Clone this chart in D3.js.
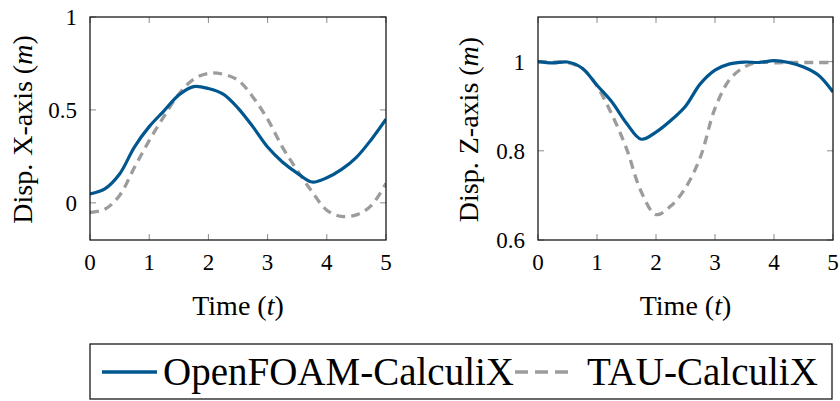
<!DOCTYPE html>
<html>
<head>
<meta charset="utf-8">
<script src="https://cdn.jsdelivr.net/npm/d3@7"></script>
<style>
  body { margin: 0; background: #fff; }
  svg { display: block; }
</style>
</head>
<body>
<svg id="chart"></svg>
<script>
const width = 840, height = 401;

// temps (t) commun aux deux séries
const time = [0, 0.25, 0.5, 0.75, 1, 1.25, 1.5, 1.75, 2, 2.25, 2.5, 2.75,
              3, 3.25, 3.5, 3.75, 4, 4.25, 4.5, 4.75, 5];

// Déplacement selon X
const openfoamX = [0.048, 0.075, 0.155, 0.30, 0.41, 0.495, 0.58, 0.625, 0.615, 0.585, 0.51,
                   0.41, 0.30, 0.22, 0.16, 0.112, 0.135, 0.18, 0.245, 0.34, 0.45];
const tauX = [-0.052, -0.035, 0.04, 0.19, 0.335, 0.465, 0.585, 0.665, 0.697, 0.692, 0.66,
              0.57, 0.45, 0.30, 0.175, 0.06, -0.04, -0.073, -0.065, -0.015, 0.105];

// Déplacement selon Z
const openfoamZ = [1.0, 0.997, 0.999, 0.985, 0.947, 0.91, 0.862, 0.826, 0.842, 0.868, 0.9,
                   0.95, 0.981, 0.995, 0.999, 0.998, 1.002, 0.998, 0.988, 0.97, 0.932];
const tauZ = [1.0, 0.999, 0.998, 0.985, 0.945, 0.882, 0.805, 0.708, 0.657, 0.676, 0.717,
              0.785, 0.895, 0.96, 0.988, 0.999, 0.997, 0.998, 0.998, 0.998, 0.998];

const xTicks = [0, 1, 2, 3, 4, 5];
const seriesNames = ["OpenFOAM-CalculiX", "TAU-CalculiX"];

const blue = "#00568e", grey = "#9c9c9c";

const svg = d3.select("#chart")
    .attr("width", width).attr("height", height);

const panels = [
    { left: 90, right: 386, yDomain: [-0.2, 1], yTicks: [0, 0.5, 1], fmt: d => d === 0 || d === 1 ? d : d3.format(".1f")(d),
      axis: "X", a: openfoamX, b: tauX, labelX: 32 },
    { left: 538, right: 833, yDomain: [0.6, 1.1], yTicks: [0.6, 0.8, 1], fmt: d => d === 1 ? "1" : d3.format(".1f")(d),
      axis: "Z", a: openfoamZ, b: tauZ, labelX: 478 }
];
const plotTop = 17, plotBottom = 240;

panels.forEach(p => {
    const x = d3.scaleLinear().domain([0, 5]).range([p.left, p.right]);
    const y = d3.scaleLinear().domain(p.yDomain).range([plotBottom, plotTop]);
    const g = svg.append("g");

    // graduations intérieures (grises)
    const tickCol = "#8a8a8a", tl = 6;
    g.selectAll(".xt").data(xTicks).enter().append("path")
        .attr("d", d => `M${x(d)},${plotBottom}v${-tl}M${x(d)},${plotTop}v${tl}`)
        .attr("stroke", tickCol).attr("stroke-width", 1);
    g.selectAll(".yt").data(p.yTicks).enter().append("path")
        .attr("d", d => `M${p.left},${y(d)}h${tl}M${p.right},${y(d)}h${-tl}`)
        .attr("stroke", tickCol).attr("stroke-width", 1);

    const line = d3.line()
        .x((d, i) => x(time[i]))
        .y(d => y(d))
        .curve(d3.curveCatmullRom.alpha(0.5));

    const clipId = "clip" + p.axis;
    g.append("clipPath").attr("id", clipId).append("rect")
        .attr("x", p.left).attr("y", plotTop).attr("width", p.right - p.left).attr("height", plotBottom - plotTop);

    g.append("path").datum(p.b)
        .attr("clip-path", `url(#${clipId})`)
        .attr("d", line).attr("fill", "none")
        .attr("stroke", grey).attr("stroke-width", 3.3).attr("stroke-dasharray", "9,6");
    g.append("path").datum(p.a)
        .attr("clip-path", `url(#${clipId})`)
        .attr("d", line).attr("fill", "none")
        .attr("stroke", blue).attr("stroke-width", 3.2);

    // cadre
    g.append("rect")
        .attr("x", p.left).attr("y", plotTop).attr("width", p.right - p.left).attr("height", plotBottom - plotTop)
        .attr("fill", "none").attr("stroke", "#1a1a1a").attr("stroke-width", 1.3);

    // libellés des graduations
    g.selectAll(".xl").data(xTicks).enter().append("text")
        .attr("x", d => x(d)).attr("y", 270)
        .attr("text-anchor", "middle").attr("font-size", 23)
        .text(d => d);
    g.selectAll(".yl").data(p.yTicks).enter().append("text")
        .attr("x", p.left - 13).attr("y", d => y(d)).attr("dy", "0.35em")
        .attr("text-anchor", "end").attr("font-size", 23)
        .text(p.fmt);

    // titres des axes
    const tx = g.append("text")
        .attr("x", (p.left + p.right) / 2).attr("y", 315)
        .attr("text-anchor", "middle").attr("font-size", 28);
    tx.append("tspan").text("Time (");
    tx.append("tspan").attr("font-style", "italic").text("t");
    tx.append("tspan").text(")");

    const ty = g.append("text")
        .attr("transform", `translate(${p.labelX},${(plotTop + plotBottom) / 2 + 1}) rotate(-90)`)
        .attr("text-anchor", "middle").attr("font-size", 28);
    ty.append("tspan").text("Disp.");
    ty.append("tspan").attr("dx", 8).text(`${p.axis}-axis (`);
    ty.append("tspan").attr("font-style", "italic").text("m");
    ty.append("tspan").text(")");
});

// légende
const leg = svg.append("g");
leg.append("rect").attr("x", 90).attr("y", 344).attr("width", 742).attr("height", 55)
    .attr("fill", "#fff").attr("stroke", "#1a1a1a").attr("stroke-width", 1.3);
const legItems = [
    { name: seriesNames[0], color: blue, dash: null, x0: 102, tx: 163 },
    { name: seriesNames[1], color: grey, dash: "13,7", x0: 515, tx: 587 }
];
legItems.forEach(it => {
    leg.append("line").attr("x1", it.x0).attr("x2", it.x0 + 55).attr("y1", 372).attr("y2", 372)
        .attr("stroke", it.color).attr("stroke-width", 3.3)
        .attr("stroke-dasharray", it.dash);
    leg.append("text").attr("x", it.tx).attr("y", 385).attr("font-size", 39).text(it.name);
});

// police à empattements sur chaque texte
svg.selectAll("text, tspan").attr("font-family", '"Liberation Serif"');
</script>
</body>
</html>
